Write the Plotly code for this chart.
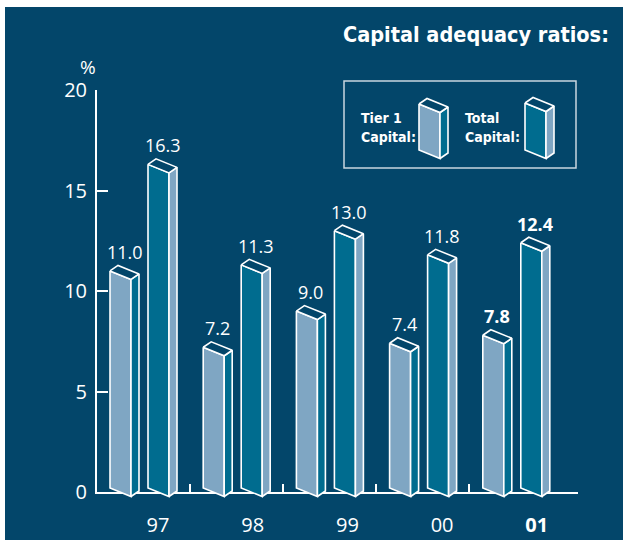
import plotly.graph_objects as go

# ---- data ----
years = ["97", "98", "99", "00", "01"]
tier1 = [11.0, 7.2, 9.0, 7.4, 7.8]
total = [16.3, 11.3, 13.0, 11.8, 12.4]
yticks = [0, 5, 10, 15, 20]

# ---- style / layout constants (pixels) ----
FW, FH = 625, 540
PX_PER_UNIT = 20.1
Y0_PX = 492
AXIS_X = 97
BASE_END = 578
BG = "#03466a"
LIGHT = "#7fa6c3"
TEAL = "#006c8f"
EDGE = "white"
W, S, DX, DY = 21, 8.5, 8, 5.5
BOT_LIFT = 4
T1_X0, TOT_X0, GROUP_STEP = 110, 148, 93.2
LAB_X0, LAB_STEP = 158, 94.7
SEP_X0 = 189.5

u = 1.0 / PX_PER_UNIT
NUM_FONT = "Open Sans, Noto Sans, sans-serif"
COND_FONT = "DejaVu Sans Condensed, Liberation Sans Narrow, Roboto, sans-serif"

fig = go.Figure()
fig.add_trace(go.Scatter(x=[300], y=[5], mode="markers", marker=dict(opacity=0),
                         hoverinfo="skip", showlegend=False, xaxis="x", yaxis="y"))


def poly(xs, ys, color, xa="x2", ya="y2", lw=1.6):
    fig.add_trace(go.Scatter(x=xs + [xs[0]], y=ys + [ys[0]], mode="lines", fill="toself",
                             fillcolor=color, line=dict(color=EDGE, width=lw),
                             hoverinfo="skip", showlegend=False, xaxis=xa, yaxis=ya))


def bar3d(x, vtop, vbot, front, side, xa="x2", ya="y2"):
    tl = (x, vtop)
    tr = (x + W, vtop - S * u)
    bl = (x, vbot)
    br = (x + W, vbot - S * u)
    d = (DX, DY * u)
    poly([tl[0], tr[0], br[0], bl[0]], [tl[1], tr[1], br[1], bl[1]], front, xa, ya)
    poly([tr[0], tr[0] + d[0], br[0] + d[0], br[0]],
         [tr[1], tr[1] + d[1], br[1] + d[1], br[1]], side, xa, ya)
    poly([tl[0], tl[0] + d[0], tr[0] + d[0], tr[0]],
         [tl[1], tl[1] + d[1], tr[1] + d[1], tr[1]], BG, xa, ya)


annotations = []
n = len(years)
for i in range(n):
    xt = T1_X0 + GROUP_STEP * i
    xo = TOT_X0 + GROUP_STEP * i
    bar3d(xt, tier1[i], BOT_LIFT * u, LIGHT, TEAL)
    bar3d(xo, total[i], BOT_LIFT * u, TEAL, LIGHT)
    bold = (i == n - 1)
    for xx, v in ((xt, tier1[i]), (xo, total[i])):
        txt = f"{v:.1f}"
        if bold:
            txt = f"<b>{txt}</b>"
        annotations.append(dict(x=xx + 14.5, y=v + 19 * u, xref="x2", yref="y2",
                                text=txt, showarrow=False, xanchor="center", yanchor="middle",
                                font=dict(family=NUM_FONT, size=18, color="white",
                                          weight=700 if bold else 400)))


def leg_y(py):
    return (Y0_PX - py) * u


bar3d(419, leg_y(104), leg_y(150), LIGHT, TEAL)
bar3d(525, leg_y(103), leg_y(150), TEAL, LIGHT)


def pap(px, py):
    return px / FW, 1 - py / FH


for (px, py, txt) in [(359, 118, "Tier 1"), (359, 137, "Capital:"),
                      (463, 118, "Total"), (463, 137, "Capital:")]:
    x, y = pap(px, py)
    annotations.append(dict(x=x, y=y, xref="paper", yref="paper", text=f"<b>{txt}</b>",
                            showarrow=False, xanchor="left", yanchor="middle",
                            font=dict(family=COND_FONT, size=14, color="white")))

x, y = pap(611, 34)
annotations.append(dict(x=x, y=y, xref="paper", yref="paper",
                        text="<b>Capital adequacy ratios:</b>", showarrow=False,
                        xanchor="right", yanchor="middle",
                        font=dict(family=COND_FONT, size=21.5, color="white")))
x, y = pap(88, 67)
annotations.append(dict(x=x, y=y, xref="paper", yref="paper", text="%", showarrow=False,
                        xanchor="center", yanchor="middle",
                        font=dict(family=NUM_FONT, size=19, color="white")))

shapes = [
    dict(type="rect", xref="paper", yref="paper", x0=5 / FW, x1=623 / FW, y0=0, y1=1 - 7 / FH,
         fillcolor=BG, line=dict(width=0), layer="below"),
    dict(type="rect", xref="paper", yref="paper", x0=344 / FW, x1=576 / FW,
         y0=1 - 168 / FH, y1=1 - 81 / FH, fillcolor="rgba(0,0,0,0)",
         line=dict(color="#c9d6e0", width=1.5), layer="below"),
]

label_pos = [LAB_X0 + LAB_STEP * i for i in range(n)]
ticktext = [f"<b>{y}</b>" if i == n - 1 else y for i, y in enumerate(years)]
sep_pos = [SEP_X0 + GROUP_STEP * i for i in range(n - 1)]

fig.update_layout(
    width=FW, height=FH, autosize=False,
    margin=dict(l=0, r=0, t=0, b=0, pad=0, autoexpand=False),
    paper_bgcolor="white",
    plot_bgcolor="rgba(0,0,0,0)",
    showlegend=False,
    shapes=shapes,
    annotations=annotations,
    xaxis=dict(domain=[AXIS_X / FW, BASE_END / FW], range=[AXIS_X, BASE_END], anchor="y",
               showline=True, linecolor="white", linewidth=2, showgrid=False, zeroline=False,
               tickmode="array", tickvals=label_pos, ticktext=ticktext, ticks="",
               ticklabelstandoff=14, automargin=False,
               tickfont=dict(family=NUM_FONT, size=20, color="white"),
               minor=dict(tickmode="array", tickvals=sep_pos, ticks="inside", ticklen=8,
                          tickwidth=2, tickcolor="white", showgrid=False),
               fixedrange=True),
    yaxis=dict(domain=[(FH - Y0_PX) / FH, (FH - (Y0_PX - 20 * PX_PER_UNIT)) / FH],
               range=[0, 20], anchor="x", showline=True, linecolor="white", linewidth=2,
               showgrid=False, zeroline=False, tickmode="array", tickvals=yticks,
               ticks="inside", ticklen=11, tickwidth=2, tickcolor="white",
               ticklabelstandoff=4, automargin=False,
               tickfont=dict(family=NUM_FONT, size=20, color="white"),
               fixedrange=True),
    xaxis2=dict(domain=[0, 1], range=[0, FW], anchor="y2", visible=False, fixedrange=True,
                automargin=False),
    yaxis2=dict(domain=[0, 1], range=[-(FH - Y0_PX) * u, Y0_PX * u], anchor="x2",
                visible=False, fixedrange=True, automargin=False),
)

post = ("document.body.style.margin='0';document.body.style.padding='0';"
        "var gd=document.getElementById('{plot_id}');"
        "gd.style.position='absolute';gd.style.top='0px';gd.style.left='0px';")
fig.write_html("out.html", post_script=post, config={"displayModeBar": False})
